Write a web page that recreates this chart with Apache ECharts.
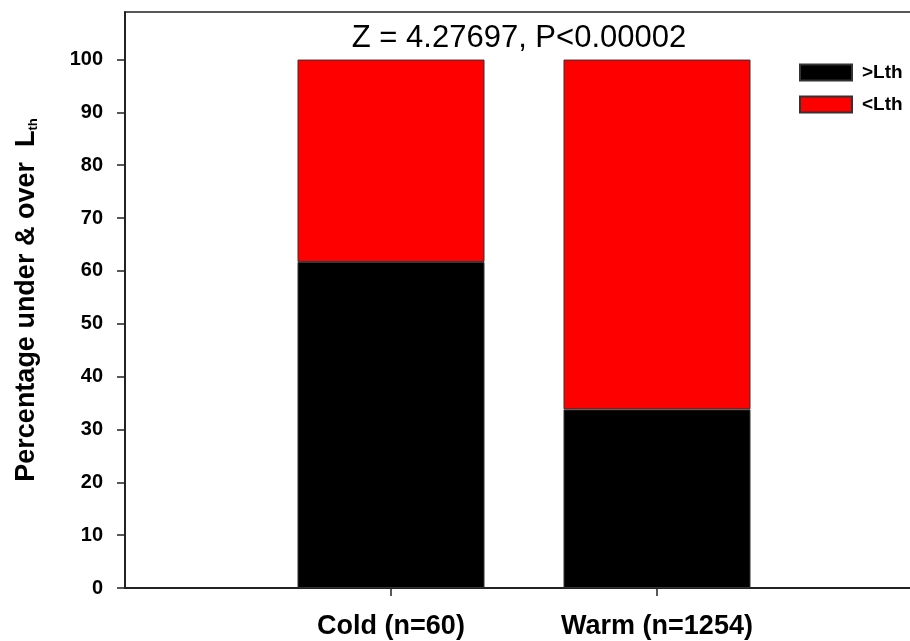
<!DOCTYPE html>
<html>
<head>
<meta charset="utf-8">
<script src="https://cdn.jsdelivr.net/npm/echarts@6/dist/echarts.min.js"></script>
<style>
  html, body { margin: 0; padding: 0; background: #fff; }
  #chart { width: 910px; height: 641px; }
</style>
</head>
<body>
<div id="chart"></div>
<script>
// 超过 / 低于 Lth 的百分比
var categories = ['Cold (n=60)', 'Warm (n=1254)'];
var overLth = [61.7, 33.8];   // >Lth 黑色
var underLth = [38.3, 66.2];  // <Lth 红色
var yTicks = [0, 10, 20, 30, 40, 50, 60, 70, 80, 90, 100];
var statText = 'Z = 4.27697, P<0.00002';

var font = '"Liberation Sans", Arial, sans-serif';
var chart = echarts.init(document.getElementById('chart'));

// 两边各留一个空位，类别落在 1、2 的位置
var axisCats = [''].concat(categories, ['']);
function pad(vals) {
    return [null].concat(vals, [null]);
}

var option = {
    backgroundColor: '#fff',
    animation: false,
    textStyle: { fontFamily: font },
    grid: { left: 125, right: -13, top: 12, bottom: 53, containLabel: false, outerBoundsMode: 'none' },
    graphic: [{
        type: 'text',
        x: 519,
        y: 38,
        style: {
            text: statText,
            font: '31px ' + font,
            fill: '#000',
            textAlign: 'center',
            textVerticalAlign: 'middle'
        }
    }],
    legend: {
        orient: 'vertical',
        left: 799,
        top: 63,
        padding: 0,
        itemWidth: 52,
        itemHeight: 16,
        itemGap: 13,
        icon: 'rect',
        data: ['>Lth', '<Lth'],
        textStyle: {
            fontSize: 19,
            fontWeight: 'bold',
            color: '#000',
            lineHeight: 16,
            padding: [0, 0, 0, 5]
        }
    },
    xAxis: [{
        type: 'category',
        data: axisCats,
        boundaryGap: false,
        splitLine: { show: false },
        axisLine: { show: true, lineStyle: { color: '#222', width: 2 } },
        axisTick: {
            show: true,
            length: 8,
            interval: function (idx, val) { return val !== ''; },
            lineStyle: { color: '#222', width: 1.5 }
        },
        axisLabel: {
            interval: 0,
            margin: 25,
            fontSize: 27,
            fontWeight: 'bold',
            color: '#000'
        }
    }, {
        type: 'category',
        position: 'top',
        data: axisCats,
        boundaryGap: false,
        splitLine: { show: false },
        axisLine: { show: true, lineStyle: { color: '#222', width: 1.5 } },
        axisTick: { show: false },
        axisLabel: { show: false }
    }],
    yAxis: {
        type: 'value',
        min: 0,
        max: 109,
        splitLine: { show: false },
        axisLine: { show: true, lineStyle: { color: '#222', width: 2 } },
        axisTick: { show: true, length: 8, customValues: yTicks, lineStyle: { color: '#222', width: 1.5 } },
        axisLabel: {
            customValues: yTicks,
            margin: 22,
            fontSize: 20,
            fontWeight: 'bold',
            color: '#000'
        },
        name: '{a|Percentage under & over  L}{s|th}',
        nameLocation: 'middle',
        nameRotate: 90,
        nameGap: 85,
        nameTextStyle: {
            rich: {
                a: { fontSize: 27, fontWeight: 'bold', color: '#000', lineHeight: 27, verticalAlign: 'top', fontFamily: font },
                s: { fontSize: 13, fontWeight: 'bold', color: '#000', lineHeight: 13, padding: [18, 0, 0, 0], verticalAlign: 'bottom', fontFamily: font }
            }
        }
    },
    series: [{
        name: '>Lth',
        type: 'bar',
        stack: 'total',
        barWidth: 187,
        itemStyle: { color: '#000', borderColor: '#333', borderWidth: 1 },
        data: pad(overLth)
    }, {
        name: '<Lth',
        type: 'bar',
        stack: 'total',
        barWidth: 187,
        itemStyle: { color: '#ff0000', borderColor: '#333', borderWidth: 1 },
        data: pad(underLth)
    }]
};

chart.setOption(option);
window.addEventListener('resize', function () {
    chart.resize();
});
</script>
</body>
</html>
